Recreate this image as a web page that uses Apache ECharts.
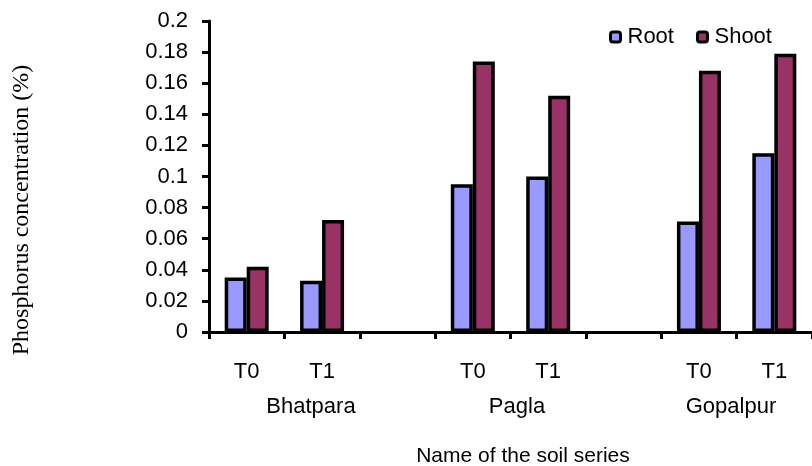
<!DOCTYPE html>
<html>
<head>
<meta charset="utf-8">
<script src="https://cdn.jsdelivr.net/npm/echarts@6/dist/echarts.min.js"></script>
<style>
html,body{margin:0;padding:0;background:#fff;}
#chart{width:812px;height:466px;}
</style>
</head>
<body>
<div id="chart"></div>
<script>
const categories = ['T0', 'T1', '', 'T0', 'T1', '', 'T0', 'T1'];
const groupNames = ['Bhatpara', 'Pagla', 'Gopalpur'];
const rootValues = [0.035, 0.033, null, 0.095, 0.100, null, 0.071, 0.115];
const shootValues = [0.042, 0.072, null, 0.174, 0.152, null, 0.168, 0.179];
const seriesNames = ['Root', 'Shoot'];
const yTicks = { min: 0, max: 0.2, interval: 0.02 };

const sans = 'Liberation Sans, Arial, sans-serif';
const chart = echarts.init(document.getElementById('chart'), null, { renderer: 'canvas' });

const groupX = [311, 517, 731];

chart.setOption({
  animation: false,
  backgroundColor: '#ffffff',
  grid: { left: 209, top: 21, width: 608, height: 311, containLabel: false },
  legend: {
    data: seriesNames,
    left: 609, top: 26, padding: 0,
    itemWidth: 10, itemHeight: 10, itemGap: 22,
    icon: 'roundRect',
    itemStyle: { borderColor: '#000', borderWidth: 3 },
    textStyle: { fontFamily: sans, fontSize: 22, color: '#000', padding: [0, 0, 0, 2] }
  },
  xAxis: {
    type: 'category',
    data: categories,
    boundaryGap: true,
    axisLine: { lineStyle: { color: '#000', width: 3 } },
    axisTick: { show: true, length: 7, lineStyle: { color: '#000', width: 3 }, alignWithLabel: false, interval: 0 },
    axisLabel: { interval: 0, margin: 29, fontFamily: sans, fontSize: 22, color: '#000' },
    splitLine: { show: false }
  },
  yAxis: {
    type: 'value',
    min: yTicks.min, max: yTicks.max, interval: yTicks.interval,
    axisLine: { show: true, lineStyle: { color: '#000', width: 3 } },
    axisTick: { show: true, length: 7, lineStyle: { color: '#000', width: 3 } },
    axisLabel: { margin: 21, fontFamily: sans, fontSize: 22, color: '#000',
      formatter: v => String(Math.round(v * 100) / 100) },
    splitLine: { show: false }
  },
  series: [
    {
      name: seriesNames[0], type: 'bar', data: rootValues,
      barWidth: 22, barGap: '0%',
      itemStyle: { color: '#9999FF', borderColor: '#000', borderWidth: 3.5 }
    },
    {
      name: seriesNames[1], type: 'bar', data: shootValues,
      barWidth: 22, barGap: '0%',
      itemStyle: { color: '#993366', borderColor: '#000', borderWidth: 3.5 }
    }
  ],
  graphic: [
    ...groupNames.map((g, i) => ({
      type: 'text', x: groupX[i], y: 407,
      style: { text: g, fontFamily: sans, fontSize: 22, fill: '#000', align: 'center', verticalAlign: 'middle' }
    })),
    {
      type: 'text', x: 523, y: 456,
      style: { text: 'Name of the soil series', fontFamily: sans, fontSize: 21, fill: '#000', align: 'center', verticalAlign: 'middle' }
    },
    {
      type: 'text', x: 22, y: 210, rotation: Math.PI / 2,
      style: { text: 'Phosphorus concentration (%)', fontFamily: 'Liberation Serif, Times New Roman, serif', fontSize: 24, fill: '#000', align: 'center', verticalAlign: 'middle' }
    }
  ]
});
</script>
</body>
</html>
